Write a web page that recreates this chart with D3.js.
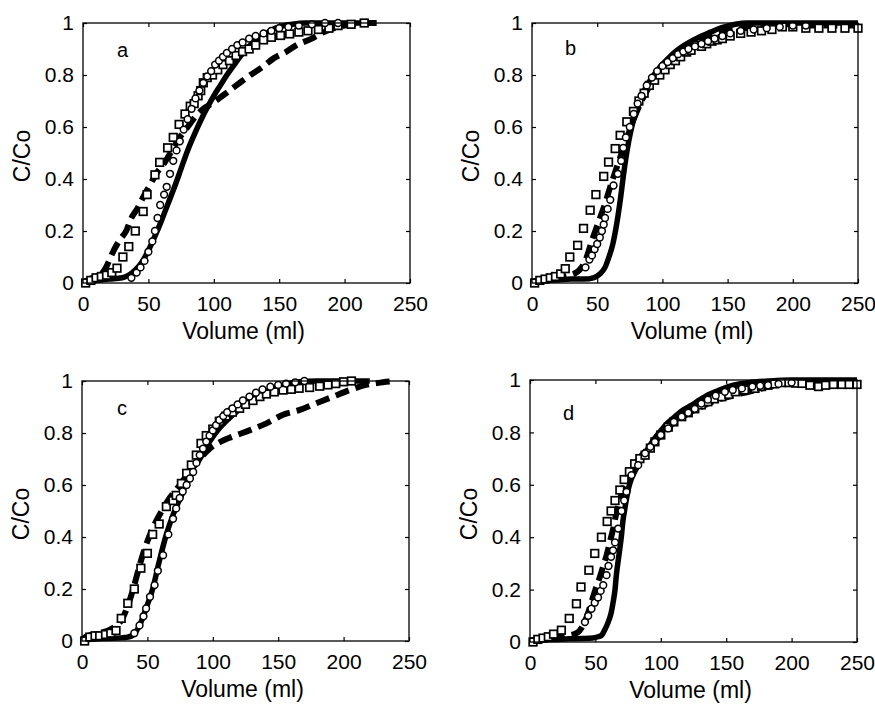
<!DOCTYPE html>
<html><head><meta charset="utf-8">
<script src="https://cdn.jsdelivr.net/npm/d3@7"></script>
<style>
html,body{margin:0;padding:0;background:#fff;}
svg{display:block;}
text{font-family:"Liberation Sans",Arial,Helvetica,sans-serif;fill:#000;}
</style></head><body>
<svg id="chart" width="875" height="708"></svg>
<script>
// ---- axis / label data ----
const xTicks = [0, 50, 100, 150, 200, 250];
const yTicks = [0, 0.2, 0.4, 0.6, 0.8, 1];
const yTickLabels = ["0", "0.2", "0.4", "0.6", "0.8", "1"];
const panelLetters = ["a", "b", "c", "d"];
const xTitle = "Volume (ml)";
const yTitle = "C/Co";

// ---- panel a ----
const aSquares = [[2,0],[6,0.01],[10,0.02],[14,0.025],[18,0.03],[22,0.04],[26,0.057],[30.5,0.1],[35,0.14],[40,0.2],[46,0.275],[49,0.34],[55,0.416],[58.6,0.464],[64.7,0.52],[69,0.56],[73.5,0.61],[78,0.65],[82,0.68],[85,0.69],[88,0.72],[90,0.74],[92,0.77],[95,0.79],[99,0.8],[103,0.82],[107,0.84],[112,0.855],[117,0.875],[122,0.89],[127,0.9],[132,0.915],[138,0.935],[144,0.945],[151,0.952],[158,0.958],[165,0.965],[172,0.97],[180,0.975],[188,0.98],[195,0.99],[205,0.995],[215,1.0]];
const aCircles = [[37,0.02],[41,0.04],[44,0.06],[47,0.085],[50,0.12],[53,0.16],[55,0.2],[57,0.25],[59,0.3],[62,0.34],[64,0.37],[66.5,0.42],[69,0.47],[71.5,0.51],[74,0.545],[77,0.59],[80,0.63],[83,0.67],[86,0.71],[89,0.74],[92,0.77],[95,0.795],[98,0.815],[101,0.84],[104,0.855],[107,0.87],[110,0.885],[114,0.9],[118,0.915],[122,0.925],[127,0.94],[132,0.95],[138,0.96],[144,0.97],[150,0.98],[157,0.985],[165,0.99],[175,0.995],[185,1.0],[195,1.0]];
const aSolid = [[0,0.005],[10,0.01],[20,0.015],[30,0.02],[35,0.03],[40,0.05],[45,0.08],[50,0.125],[55,0.18],[60,0.24],[65,0.305],[70,0.37],[75,0.44],[80,0.51],[85,0.57],[90,0.625],[95,0.675],[100,0.72],[105,0.76],[110,0.8],[115,0.835],[120,0.87],[125,0.9],[130,0.925],[135,0.945],[140,0.96],[145,0.975],[150,0.985],[160,0.995],[170,1.0],[220,1.0]];
const aDashed = [[0,0],[5,0.015],[10,0.025],[15,0.04],[18,0.064],[22,0.11],[28,0.165],[33,0.2],[37,0.25],[42,0.29],[46,0.33],[51,0.375],[56,0.42],[62,0.46],[68,0.51],[74,0.56],[80,0.6],[86,0.64],[92,0.67],[100,0.695],[108,0.725],[118,0.763],[128,0.8],[137,0.83],[146,0.865],[155,0.888],[164,0.917],[174,0.938],[182,0.96],[192,0.98],[204,0.994],[215,1.0],[225,1.0]];

// ---- panel b ----
const bSquares = [[2,0],[6,0.01],[10,0.015],[14,0.02],[18,0.025],[22,0.035],[25.5,0.055],[29,0.1],[35,0.145],[39.5,0.21],[44.6,0.28],[49,0.34],[55,0.41],[58.7,0.465],[63.8,0.517],[67.6,0.568],[72.7,0.62],[77.8,0.66],[82,0.7],[86,0.73],[90,0.76],[94,0.78],[98,0.8],[102,0.82],[106,0.84],[110,0.855],[114,0.87],[118.6,0.888],[122,0.895],[126.3,0.914],[130,0.91],[134,0.92],[138,0.93],[142,0.935],[146,0.94],[152,0.95],[160,0.96],[168,0.965],[176,0.97],[184,0.975],[192,0.985],[200,0.985],[210,0.98],[220,0.98],[230,0.98],[240,0.98],[250,0.98]];
const bCircles = [[41,0.06],[44,0.09],[46,0.106],[48,0.13],[50,0.15],[52,0.175],[53.6,0.2],[55,0.225],[56,0.25],[58,0.285],[60,0.32],[62.5,0.375],[65.8,0.42],[68.4,0.47],[70,0.52],[72,0.56],[75,0.6],[78,0.65],[81,0.69],[84,0.72],[88,0.76],[92,0.79],[96,0.815],[100,0.835],[104,0.85],[108,0.865],[112,0.88],[116,0.89],[120,0.9],[125,0.91],[130,0.92],[135,0.93],[140,0.94],[146,0.95],[152,0.96],[160,0.97],[170,0.975],[180,0.98],[190,0.985],[200,0.99],[210,0.99]];
const bSolid = [[0,0.005],[10,0.01],[20,0.012],[30,0.015],[40,0.015],[47,0.02],[52,0.035],[56,0.06],[59,0.1],[62,0.15],[64,0.2],[66,0.26],[68,0.33],[70,0.41],[72,0.48],[74,0.54],[76,0.59],[79,0.645],[82,0.69],[86,0.74],[92,0.79],[98,0.83],[104.6,0.865],[110,0.89],[117,0.915],[124,0.935],[130,0.95],[137,0.965],[143,0.978],[150,0.988],[156,0.995],[165,1.0],[250,1.0]];
const bDashed = [[0,0.005],[10,0.015],[20,0.02],[30,0.03],[38,0.06],[42,0.1],[46,0.164],[50,0.22],[53.6,0.27],[57,0.32],[60,0.37],[63,0.415],[66,0.46],[71.4,0.536],[76.5,0.61],[84,0.7],[91.8,0.77],[98,0.81],[104.6,0.84],[110,0.865],[117,0.895],[124,0.915],[130,0.93],[137,0.95],[143,0.96],[150,0.97],[160,0.978],[170,0.985],[181,0.99],[195,0.995],[210,0.99],[225,0.99],[240,0.99],[250,0.99]];

// ---- panel c ----
const cSquares = [[2,0],[6,0.015],[10,0.02],[13.5,0.02],[18,0.025],[22,0.03],[26,0.04],[30,0.087],[35,0.145],[40,0.2],[45,0.28],[50,0.337],[54,0.41],[59,0.45],[64.5,0.517],[69.6,0.54],[72,0.56],[76,0.606],[80,0.645],[83.6,0.677],[87.4,0.715],[91,0.76],[95,0.79],[100,0.815],[105,0.845],[110,0.865],[115,0.88],[120.5,0.895],[125,0.91],[130.7,0.925],[136,0.94],[141,0.95],[147,0.958],[153.7,0.965],[160,0.968],[166,0.972],[174,0.975],[181.7,0.98],[188,0.985],[194,0.99],[200,0.997],[206,1.0]];
const cCircles = [[40,0.03],[44,0.06],[47,0.095],[49,0.125],[52,0.17],[55.5,0.215],[58,0.27],[62,0.33],[66,0.41],[69.6,0.47],[72,0.51],[74.7,0.55],[77,0.575],[80,0.6],[82.5,0.625],[85,0.65],[87.5,0.685],[90,0.715],[92.5,0.74],[95,0.767],[97.5,0.79],[100,0.81],[102.5,0.83],[105,0.85],[108,0.865],[111,0.88],[115,0.895],[119,0.91],[123,0.925],[128,0.94],[133,0.955],[138,0.968],[144,0.978],[150,0.985],[156,0.99],[163,0.995],[170,1.0]];
const cSolid = [[0,0.005],[10,0.008],[20,0.01],[30,0.012],[35,0.015],[39,0.023],[44,0.06],[49,0.126],[54,0.2],[59,0.305],[64.5,0.41],[69.6,0.485],[76,0.56],[82,0.64],[90,0.7],[97.6,0.767],[105,0.818],[115.4,0.87],[128,0.92],[141,0.96],[153.7,0.985],[166,0.997],[180,1.0],[220,1.0]];
const cDashed = [[0,0.005],[3,0.017],[13.5,0.03],[23.7,0.05],[31,0.087],[36,0.15],[40,0.215],[44,0.29],[49,0.37],[54,0.433],[60.6,0.497],[67,0.55],[74.7,0.6],[82,0.65],[90,0.7],[97.6,0.74],[105,0.764],[115,0.786],[128,0.81],[141,0.837],[153.7,0.87],[166,0.888],[179,0.914],[192,0.94],[204.6,0.965],[217,0.985],[230,0.995],[240,1.0]];

// ---- panel d ----
const dSquares = [[2.3,0],[6,0.01],[10,0.015],[14,0.02],[18,0.03],[24,0.045],[30,0.09],[35.5,0.146],[39,0.21],[45,0.274],[49.5,0.338],[54.6,0.4],[59,0.46],[62,0.5],[65,0.54],[68.7,0.58],[72,0.62],[76,0.65],[80,0.68],[84,0.7],[88,0.713],[92,0.74],[95.5,0.764],[100,0.79],[105.7,0.82],[110,0.84],[116,0.86],[121,0.875],[126,0.89],[131,0.905],[136,0.917],[141,0.928],[146.6,0.936],[152,0.945],[157,0.955],[164,0.962],[172,0.968],[177,0.975],[182,0.98],[187,0.985],[192.5,0.99],[198,0.99],[203,0.988],[208,0.987],[214,0.98],[220.6,0.975],[226,0.98],[232,0.983],[238.5,0.983],[244,0.983],[250,0.983]];
const dCircles = [[42,0.076],[44.5,0.1],[47,0.127],[49.5,0.15],[52,0.17],[54,0.195],[56,0.217],[58.5,0.255],[60,0.29],[62,0.325],[63.5,0.35],[65,0.38],[67.4,0.433],[70,0.5],[72,0.54],[73.8,0.573],[77.6,0.637],[82.7,0.675],[88,0.72],[92,0.745],[95.5,0.764],[100,0.79],[105.7,0.815],[110,0.84],[116,0.86],[121,0.875],[126,0.89],[131,0.91],[136,0.925],[142,0.94],[149,0.955],[155,0.962],[162,0.968],[170,0.975],[176,0.978],[182,0.98],[190,0.985],[200,0.99]];
const dSolid = [[0,0.005],[10,0.008],[20,0.01],[30,0.012],[40,0.013],[48,0.015],[52,0.02],[54.6,0.025],[57,0.045],[59.8,0.076],[62,0.11],[63.6,0.153],[65,0.2],[66,0.255],[67.4,0.31],[68.7,0.357],[70,0.41],[71,0.46],[72.4,0.505],[73.8,0.548],[75.5,0.59],[77.6,0.624],[80,0.65],[82.7,0.675],[86,0.705],[90.4,0.74],[95,0.775],[100.6,0.81],[105,0.835],[110.8,0.86],[117,0.885],[123.6,0.904],[130,0.925],[136,0.943],[144,0.96],[151.7,0.975],[160,0.985],[167,0.99],[182,0.996],[200,1.0],[250,1.0]];
const dDashed = [[0,0.005],[10,0.015],[20,0.02],[30,0.025],[36,0.035],[40.6,0.064],[44,0.105],[47,0.153],[50,0.2],[53,0.242],[56,0.29],[58.5,0.33],[61,0.38],[63.6,0.433],[65.5,0.48],[67.4,0.52],[70,0.565],[72.5,0.6],[76,0.64],[80,0.675],[85,0.71],[90.4,0.74],[95,0.765],[100.6,0.79],[105,0.815],[110.8,0.84],[117,0.86],[123.6,0.88],[130,0.895],[136,0.91],[144,0.925],[151.7,0.936],[160,0.947],[167,0.955],[175,0.965],[182,0.975],[190,0.983],[195,0.987],[208,0.987],[220,0.98],[233,0.98],[250,0.983]];

const panelData = [
  {squares: aSquares, circles: aCircles, solid: aSolid, dashed: aDashed},
  {squares: bSquares, circles: bCircles, solid: bSolid, dashed: bDashed},
  {squares: cSquares, circles: cCircles, solid: cSolid, dashed: cDashed},
  {squares: dSquares, circles: dCircles, solid: dSolid, dashed: dDashed}
];

// ---- layout (pixels) ----
const frames = [
  {l: 83, t: 23, w: 327, h: 260, lx: 34, ly: 34},
  {l: 532, t: 23, w: 326, h: 260, lx: 33, ly: 32},
  {l: 82, t: 381, w: 327, h: 260, lx: 35, ly: 34},
  {l: 530, t: 380, w: 327, h: 262, lx: 33, ly: 40}
];

const svg = d3.select("#chart");
svg.append("rect").attr("width", 875).attr("height", 708).attr("fill", "#fff");

panelData.forEach((pd, i) => {
  const f = frames[i];
  const g = svg.append("g").attr("transform", `translate(${f.l},${f.t})`);
  const x = d3.scaleLinear().domain([0, 250]).range([0, f.w]);
  const y = d3.scaleLinear().domain([0, 1]).range([f.h, 0]);

  const fmtY = d => yTickLabels[yTicks.indexOf(d)];

  // axes with inward ticks
  const gb = g.append("g").attr("transform", `translate(0,${f.h})`)
    .call(d3.axisBottom(x).tickValues(xTicks).tickSizeInner(-4).tickSizeOuter(0).tickPadding(13.5));
  const gl = g.append("g")
    .call(d3.axisLeft(y).tickValues(yTicks).tickFormat(fmtY).tickSizeInner(-4).tickSizeOuter(0).tickPadding(9));
  const gt = g.append("g")
    .call(d3.axisTop(x).tickValues(xTicks).tickSizeInner(-4).tickSizeOuter(0).tickFormat(""));
  const gr = g.append("g").attr("transform", `translate(${f.w},0)`)
    .call(d3.axisRight(y).tickValues(yTicks).tickSizeInner(-4).tickSizeOuter(0).tickFormat(""));
  [gb, gl, gt, gr].forEach(a => {
    a.select(".domain").remove();
    a.selectAll(".tick line").attr("stroke", "#000").attr("stroke-width", 1.2);
    a.selectAll("text").attr("font-size", 21).attr("font-family", '"Liberation Sans",Arial,sans-serif').attr("fill", "#111");
  });

  // lines
  const line = d3.line().x(d => x(d[0])).y(d => y(d[1])).curve(d3.curveMonotoneX);
  g.append("path").datum(pd.solid).attr("d", line)
    .attr("fill", "none").attr("stroke", "#000").attr("stroke-width", 5.5);
  g.append("path").datum(pd.dashed).attr("d", line)
    .attr("fill", "none").attr("stroke", "#000").attr("stroke-width", 6)
    .attr("stroke-dasharray", "14 7");

  // markers
  g.append("g").selectAll("rect").data(pd.squares).join("rect")
    .attr("x", d => x(d[0]) - 3.8).attr("y", d => y(d[1]) - 3.8)
    .attr("width", 7.6).attr("height", 7.6)
    .attr("fill", "#fff").attr("stroke", "#000").attr("stroke-width", 1.7);
  g.append("g").selectAll("circle").data(pd.circles).join("circle")
    .attr("cx", d => x(d[0])).attr("cy", d => y(d[1])).attr("r", 3.4)
    .attr("fill", "#fff").attr("stroke", "#000").attr("stroke-width", 1.5);

  // frame
  g.append("rect").attr("width", f.w).attr("height", f.h)
    .attr("fill", "none").attr("stroke", "#000").attr("stroke-width", 1.3);

  // panel letter
  g.append("text").attr("x", f.lx).attr("y", f.ly).attr("font-size", 20).text(panelLetters[i]);

  // titles
  g.append("text").attr("x", f.w / 2 - 3).attr("y", f.h + 56)
    .attr("text-anchor", "middle").attr("font-size", 23).text(xTitle);
  g.append("text").attr("transform", `translate(-61,${f.h / 2 + 3}) rotate(-90)`)
    .attr("text-anchor", "middle").attr("dy", "0.35em").attr("font-size", 23).text(yTitle);
});
</script>
</body></html>
